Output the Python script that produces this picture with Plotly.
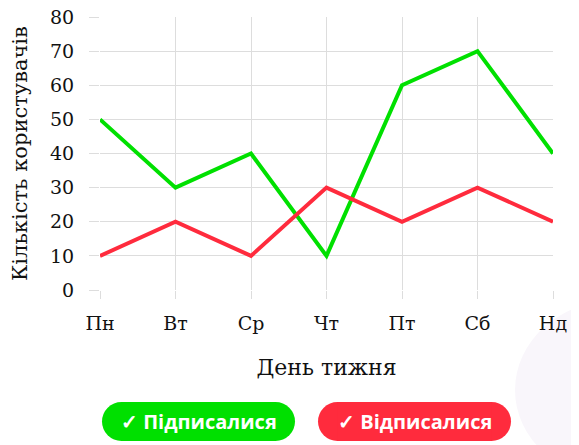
import plotly.graph_objects as go

# дані
days = ["Пн", "Вт", "Ср", "Чт", "Пт", "Сб", "Нд"]
subscribed = [50, 30, 40, 10, 60, 70, 40]
unsubscribed = [10, 20, 10, 30, 20, 30, 20]
y_ticks = [0, 10, 20, 30, 40, 50, 60, 70, 80]
legend_labels = ["✓ Підписалися", "✓ Відписалися"]

GREEN = "#00e000"
RED = "#ff2b3d"
GRID = "#dddddd"
serif = "DejaVu Serif"

fig = go.Figure()
fig.add_trace(go.Scatter(x=days, y=subscribed, mode="lines", name=legend_labels[0],
                         line=dict(color=GREEN, width=4)))
fig.add_trace(go.Scatter(x=days, y=unsubscribed, mode="lines", name=legend_labels[1],
                         line=dict(color=RED, width=4)))

# розміри полотна і поля (сторінка має відступ body 8px)
W, H = 579, 445
OFF = 8
ml, mt = 100 - OFF, 17 - OFF
mr = (W + OFF) - 553
mb = (H + OFF) - 290
pw, ph = W - ml - mr, H - mt - mb


def px(x):
    # екранний піксель -> частка paper
    return (x - OFF - ml) / pw


def py(y):
    return (H - mb - (y - OFF)) / ph


shapes = [
    # бліда декоративна пляма праворуч унизу
    dict(type="circle", xref="paper", yref="paper", layer="below",
         x0=px(515), x1=px(720), y0=py(480), y1=py(300),
         fillcolor="#f9f6fb", line=dict(width=0)),
]
annotations = []

# легенда у вигляді «таблеток»
r = 19.5
for text, col, x0, x1 in zip(legend_labels, [GREEN, RED], [102, 318], [295, 511]):
    for cx in (x0 + r, x1 - r):
        shapes.append(dict(type="circle", xref="paper", yref="paper",
                           x0=px(cx - r), x1=px(cx + r), y0=py(441), y1=py(402),
                           fillcolor=col, line=dict(width=0)))
    shapes.append(dict(type="rect", xref="paper", yref="paper",
                       x0=px(x0 + r), x1=px(x1 - r), y0=py(441), y1=py(402),
                       fillcolor=col, line=dict(width=0)))
    annotations.append(dict(text=f"<b>{text}</b>", xref="paper", yref="paper",
                            x=px((x0 + x1) / 2), y=py(421.5), xanchor="center", yanchor="middle",
                            showarrow=False,
                            font=dict(family="Open Sans", size=20, color="white")))

fig.update_layout(
    width=W, height=H,
    margin=dict(l=ml, r=mr, t=mt, b=mb),
    paper_bgcolor="white", plot_bgcolor="white",
    showlegend=False,
    font=dict(family=serif, size=19, color="#111111"),
    shapes=shapes,
    annotations=annotations,
    xaxis=dict(
        range=[0, 6], showgrid=True, gridcolor=GRID, gridwidth=1, automargin=False,
        ticks="outside", ticklen=8, tickcolor=GRID, zeroline=False, showline=False,
        ticklabelstandoff=8, ticklabeloverflow="allow",
        title=dict(text="День тижня", standoff=26, font=dict(family=serif, size=22)),
        tickfont=dict(family=serif, size=19),
    ),
    yaxis=dict(
        range=[0, 80], tickvals=y_ticks, showgrid=True, gridcolor=GRID, gridwidth=1,
        automargin=False,
        ticks="outside", ticklen=10, tickcolor=GRID, zeroline=False, showline=False,
        ticklabelstandoff=11, ticklabeloverflow="allow",
        title=dict(text="Кількість користувачів", standoff=19, font=dict(family=serif, size=21)),
        tickfont=dict(family=serif, size=19),
    ),
)

fig.write_html("out.html")
